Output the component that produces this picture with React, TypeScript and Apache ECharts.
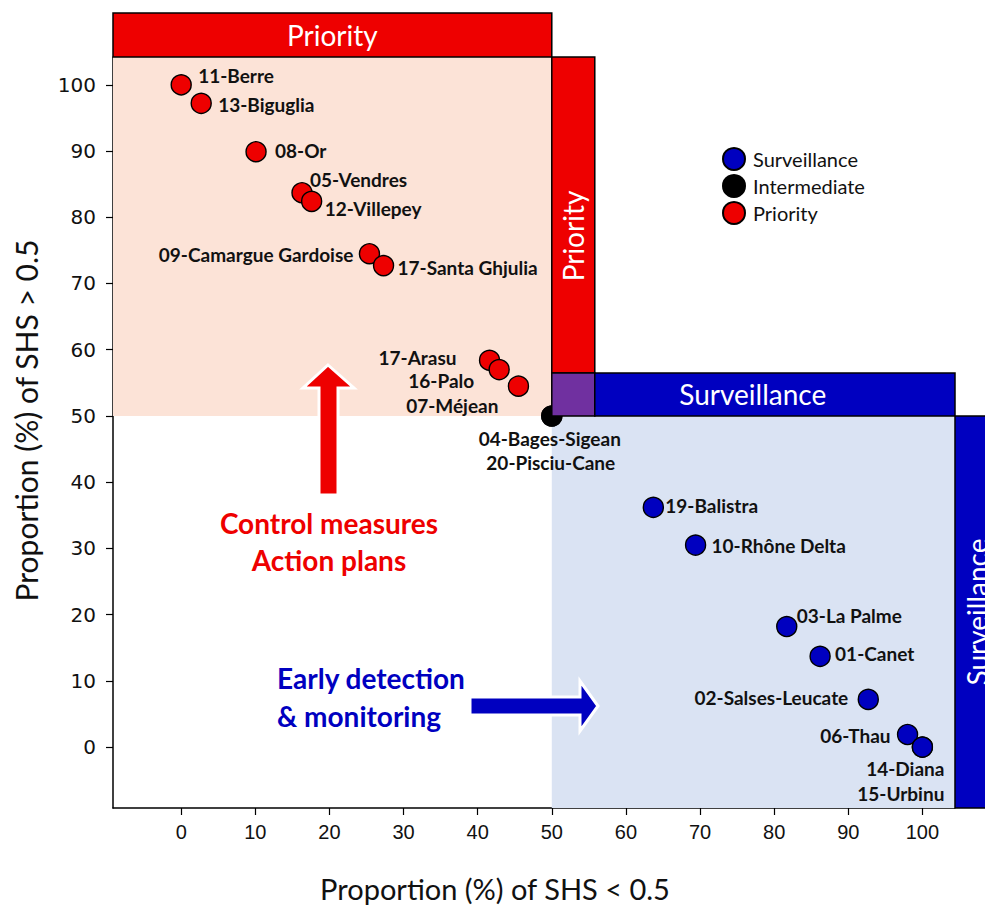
import React, { useEffect, useRef } from "react";
import * as echarts from "echarts";

// ---- data ----
const xTicks = [0, 10, 20, 30, 40, 50, 60, 70, 80, 90, 100];
const yTicks = [0, 10, 20, 30, 40, 50, 60, 70, 80, 90, 100];

const survNames = ["19-Balistra", "10-Rhône Delta", "03-La Palme", "01-Canet", "02-Salses-Leucate", "06-Thau", "14-Diana", "15-Urbinu"];
const survX = [63.7, 69.4, 81.7, 86.2, 92.7, 98.0, 100, 100];
const survY = [36.2, 30.5, 18.2, 13.7, 7.2, 1.9, 0, 0];

const interNames = ["04-Bages-Sigean", "20-Pisciu-Cane"];
const interX = [50, 50];
const interY = [50, 50];

const prioNames = ["11-Berre", "13-Biguglia", "08-Or", "05-Vendres", "12-Villepey", "09-Camargue Gardoise", "17-Santa Ghjulia", "17-Arasu", "16-Palo", "07-Méjean"];
const prioX = [0, 2.7, 10.1, 16.3, 17.6, 25.4, 27.3, 41.6, 42.9, 45.5];
const prioY = [100, 97.2, 89.9, 83.7, 82.4, 74.5, 72.7, 58.4, 57.0, 54.5];

const threshold = 50;
const xMin = -9.2;
const xMax = 104.4;
const yMin = -9.2;
const yMax = 104.2;

// label placement (offset from point centre, alignment)
const labelPlace: Record<string, [number, number, string]> = {
  "11-Berre": [17, -9, "left"],
  "13-Biguglia": [17, 1, "left"],
  "08-Or": [19, -1, "left"],
  "05-Vendres": [8, -13, "left"],
  "12-Villepey": [13, 7, "left"],
  "09-Camargue Gardoise": [-16, 1, "right"],
  "17-Santa Ghjulia": [14, 2, "left"],
  "17-Arasu": [-33, -3, "right"],
  "16-Palo": [-25, 11, "right"],
  "07-Méjean": [-20, 19, "right"],
  "04-Bages-Sigean": [-2, 23, "center"],
  "20-Pisciu-Cane": [-1, 47, "center"],
  "19-Balistra": [12, -2, "left"],
  "10-Rhône Delta": [16, 0, "left"],
  "03-La Palme": [10, -11, "left"],
  "01-Canet": [15, -3, "left"],
  "02-Salses-Leucate": [-20, -2, "right"],
  "06-Thau": [-17, 1, "right"],
  "14-Diana": [22, 21, "right"],
  "15-Urbinu": [22, 46, "right"],
};

const RED = "#EE0000";
const BLUE = "#0000C0";
const PURPLE = "#7030A0";
const PINK = "#FCE3D7";
const LIGHTBLUE = "#DAE3F3";
const FONT = "Lato, 'Open Sans', sans-serif";

function buildData(names: string[], xs: number[], ys: number[]) {
  return names.map((n, i) => {
    const pl = labelPlace[n] || [12, 0, "left"];
    return {
      name: n,
      value: [xs[i], ys[i]],
      label: {
        show: true,
        formatter: n,
        position: "inside",
        offset: [pl[0], pl[1]],
        align: pl[2],
        verticalAlign: "middle",
        fontFamily: FONT,
        fontWeight: "bold",
        fontSize: 19,
        color: "#111",
      },
    };
  });
}

export default function App() {
  const ref = useRef<HTMLDivElement>(null);

  useEffect(() => {
    if (!ref.current) return;
    const chart = echarts.init(ref.current, null, { renderer: "svg" });
    const symbolStyle = (c: string) => ({ color: c, borderColor: "#000", borderWidth: 1.4, opacity: 1 });

    const option: any = {
      animation: false,
      backgroundColor: "#fff",
      grid: { left: 113, top: 57, width: 842, height: 751, containLabel: false, outerBoundsMode: "none" },
      legend: {
        data: ["Surveillance", "Intermediate", "Priority"],
        orient: "vertical",
        left: 722,
        top: 147,
        padding: 0,
        itemWidth: 22,
        itemHeight: 22,
        itemGap: 3,
        icon: "circle",
        textStyle: { fontFamily: FONT, fontSize: 20, color: "#111", padding: [0, 0, 0, 3] },
      },
      xAxis: {
        type: "value",
        min: xMin,
        max: xMax,
        splitLine: { show: false },
        axisLine: { show: true, onZero: false, lineStyle: { color: "#000", width: 1.5 } },
        axisTick: { show: true, inside: false, length: 7, customValues: xTicks, lineStyle: { color: "#000", width: 1.2 } },
        axisLabel: { customValues: xTicks, fontFamily: "'Liberation Sans', Arial, sans-serif", fontSize: 20, color: "#111", margin: 14 },
        name: "Proportion (%) of SHS < 0.5",
        nameLocation: "middle",
        nameGap: 66,
        nameTextStyle: { fontFamily: FONT, fontSize: 29, color: "#111", padding: [0, 78, 0, 0] },
      },
      yAxis: {
        type: "value",
        min: yMin,
        max: yMax,
        splitLine: { show: false },
        axisLine: { show: true, onZero: false, lineStyle: { color: "#000", width: 1.5 } },
        axisTick: { show: true, inside: false, length: 7, customValues: yTicks, lineStyle: { color: "#000", width: 1.2 } },
        axisLabel: { customValues: yTicks, fontFamily: "'DejaVu Sans', sans-serif", fontSize: 20, color: "#111", margin: 17 },
        name: "Proportion (%) of SHS > 0.5",
        nameLocation: "middle",
        nameGap: 72,
        nameTextStyle: { fontFamily: FONT, fontSize: 30, color: "#111", padding: [0, 0, 0, 24] },
      },
      series: [
        {
          name: "Surveillance",
          type: "scatter",
          symbol: "circle",
          symbolSize: 20,
          itemStyle: symbolStyle(BLUE),
          data: buildData(survNames, survX, survY),
          z: 3,
          markArea: {
            silent: true,
            z: 1,
            itemStyle: { color: LIGHTBLUE, opacity: 1 },
            data: [[{ xAxis: threshold, yAxis: yMin }, { xAxis: xMax, yAxis: threshold }]],
          },
        },
        {
          name: "Intermediate",
          type: "scatter",
          symbol: "circle",
          symbolSize: 20,
          itemStyle: symbolStyle("#000"),
          data: buildData(interNames, interX, interY),
          z: 4,
        },
        {
          name: "Priority",
          type: "scatter",
          symbol: "circle",
          symbolSize: 20,
          itemStyle: symbolStyle(RED),
          data: buildData(prioNames, prioX, prioY),
          z: 3,
          markArea: {
            silent: true,
            z: 1,
            itemStyle: { color: PINK, opacity: 1 },
            data: [[{ xAxis: xMin, yAxis: threshold }, { xAxis: threshold, yAxis: yMax }]],
          },
        },
      ],
    };
    chart.setOption(option);

    const p = (x: number, y: number) => chart.convertToPixel({ gridIndex: 0 }, [x, y]) as number[];
    const [cx, cy] = p(threshold, threshold);
    const [gl, gt] = p(xMin, yMax);
    const [gr, gb] = p(xMax, yMin);
    const T = 43;
    const border = { stroke: "#000", lineWidth: 1.5 };
    const boxText = (x: number, y: number, text: string, rot = 0) => ({
      type: "text",
      x,
      y,
      rotation: rot,
      z: 6,
      silent: true,
      style: { text, fill: "#fff", fontFamily: FONT, fontSize: 28, align: "center", verticalAlign: "middle" },
    });

    chart.setOption({
      graphic: [
        // Priority header
        { type: "rect", z: 5, silent: true, shape: { x: gl, y: gt - T - 1, width: cx - gl, height: T + 1 }, style: { fill: RED, ...border } },
        boxText((gl + cx) / 2, gt - T / 2 - 1, "Priority"),
        // Priority side
        { type: "rect", z: 5, silent: true, shape: { x: cx, y: gt, width: T, height: cy - T - gt }, style: { fill: RED, ...border } },
        boxText(cx + T / 2, 236, "Priority", Math.PI / 2),
        // Purple corner
        { type: "rect", z: 5, silent: true, shape: { x: cx, y: cy - T, width: T, height: T }, style: { fill: PURPLE, ...border } },
        // Surveillance header
        { type: "rect", z: 5, silent: true, shape: { x: cx + T, y: cy - T, width: gr - cx - T, height: T }, style: { fill: BLUE, ...border } },
        boxText(cx + T + 158, cy - T / 2, "Surveillance"),
        // Surveillance side
        { type: "rect", z: 5, silent: true, shape: { x: gr, y: cy, width: T, height: gb - cy }, style: { fill: BLUE, ...border } },
        boxText(gr + T / 2, (cy + gb) / 2, "Surveillance", Math.PI / 2),
        // Red arrow (up)
        {
          type: "polygon",
          z: 5,
          silent: true,
          shape: { points: [[328, 365], [354, 388], [338, 388], [338, 495], [319, 495], [319, 388], [303, 388]] },
          style: { fill: RED, stroke: "#fff", lineWidth: 3 },
        },
        // Blue arrow (right)
        {
          type: "polygon",
          z: 5,
          silent: true,
          shape: { points: [[470, 697], [580, 697], [580, 681], [598, 706], [580, 731], [580, 715], [470, 715]] },
          style: { fill: BLUE, stroke: "#fff", lineWidth: 3 },
        },
        { type: "text", z: 6, silent: true, x: 329, y: 523, style: { text: "Control measures", fill: RED, fontFamily: FONT, fontWeight: "bold", fontSize: 28, align: "center", verticalAlign: "middle" } },
        { type: "text", z: 6, silent: true, x: 329, y: 560, style: { text: "Action plans", fill: RED, fontFamily: FONT, fontWeight: "bold", fontSize: 28, align: "center", verticalAlign: "middle" } },
        { type: "text", z: 6, silent: true, x: 277, y: 678, style: { text: "Early detection", fill: BLUE, fontFamily: FONT, fontWeight: "bold", fontSize: 28, align: "left", verticalAlign: "middle" } },
        { type: "text", z: 6, silent: true, x: 277, y: 716, style: { text: "& monitoring", fill: BLUE, fontFamily: FONT, fontWeight: "bold", fontSize: 28, align: "left", verticalAlign: "middle" } },
      ],
    });

    return () => chart.dispose();
  }, []);

  return (
    <div
      ref={ref}
      style={{ position: "fixed", left: 0, top: 0, width: 985, height: 909, background: "#fff", overflow: "hidden" }}
    />
  );
}
